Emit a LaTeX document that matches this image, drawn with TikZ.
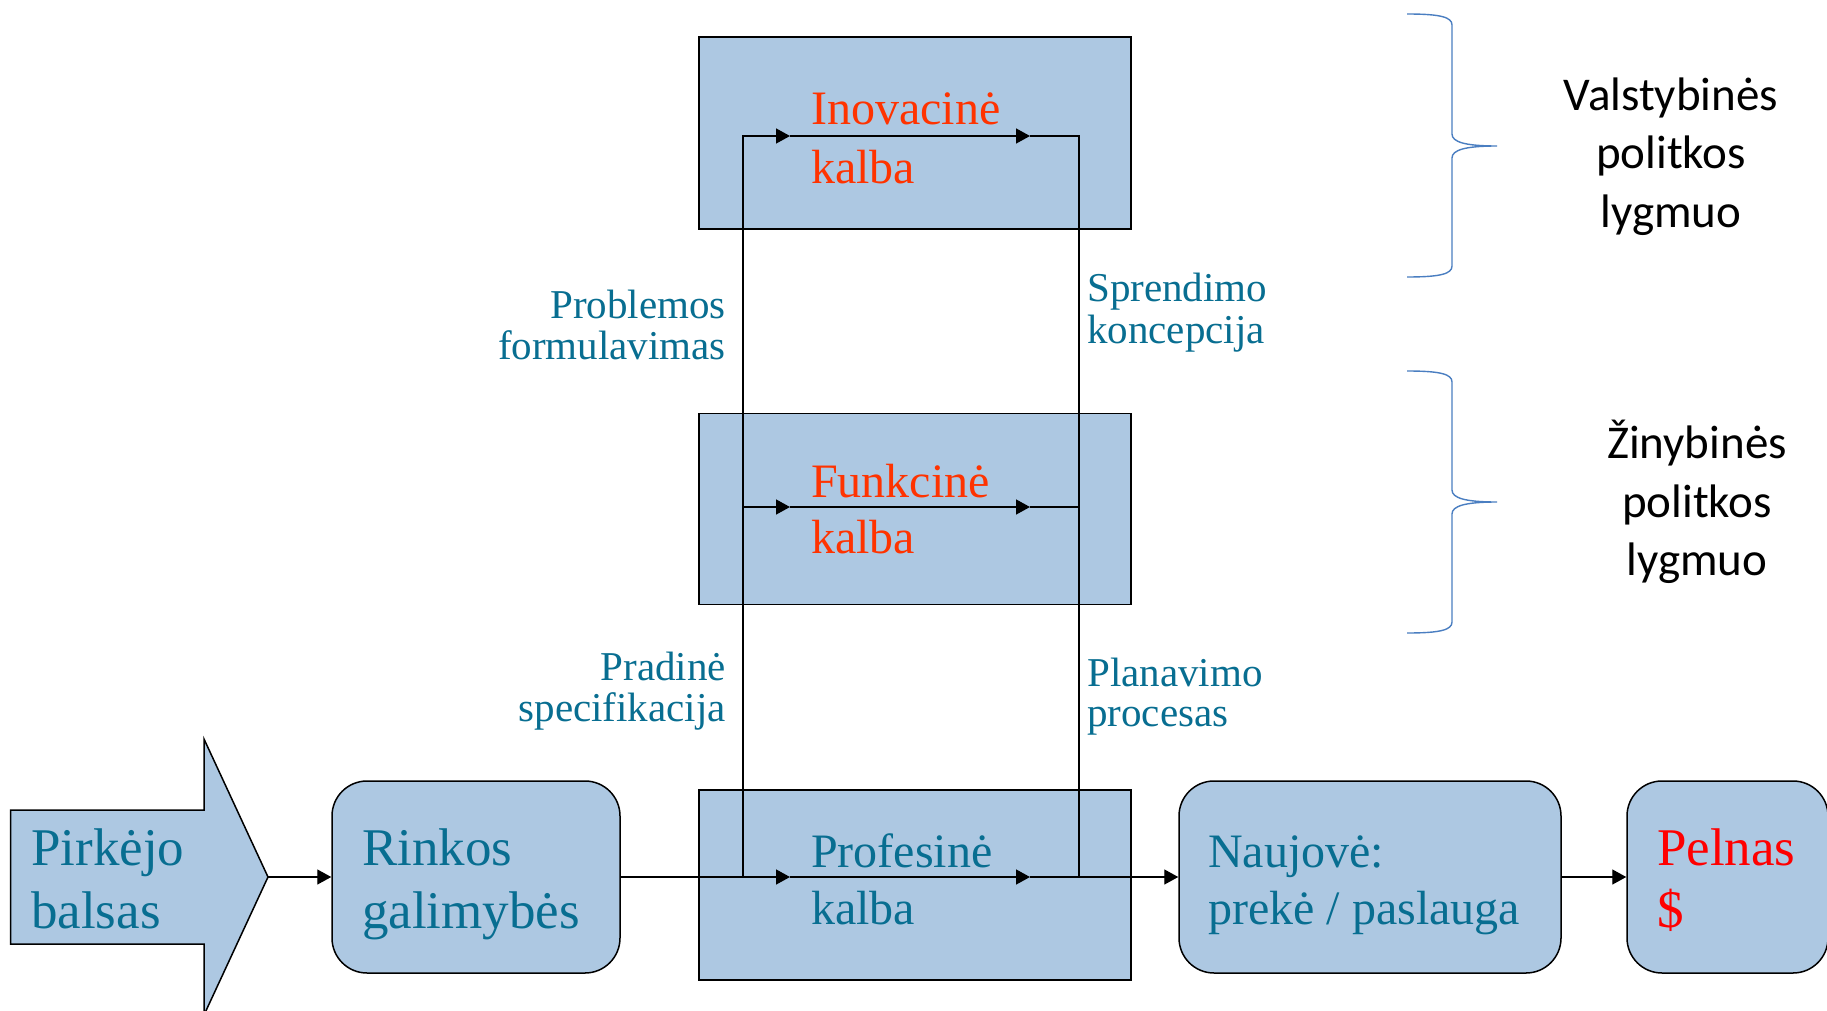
\documentclass[tikz,border=0pt]{standalone}
\usepackage{fontspec}
\setmainfont{Liberation Serif}
\newfontfamily\calib{Carlito}
\usetikzlibrary{arrows.meta}
\definecolor{boxfill}{RGB}{173,200,226}
\definecolor{tealtxt}{RGB}{8,110,145}
\definecolor{orangetxt}{RGB}{255,51,0}
\definecolor{bracecol}{RGB}{74,126,193}
\begin{document}
\begin{tikzpicture}[x=1pt,y=-1pt,
  box/.style={draw=black, line width=1.5pt, fill=boxfill, inner sep=0pt, rectangle},
  rbox/.style={box, rounded corners=35pt},
  tl/.style={inner sep=0pt, anchor=base west},
  tr/.style={inner sep=0pt, anchor=base east},
  tc/.style={inner sep=0pt, anchor=base},
  big/.style={font=\fontsize{53}{60}\selectfont},
  mid/.style={font=\fontsize{48}{56}\selectfont},
  small/.style={font=\fontsize{41}{48}\selectfont, text=tealtxt},
  side/.style={font=\calib\fontsize{47}{56}\selectfont, text=black},
  conn/.style={line width=1.4pt, draw=black},
  arr/.style={conn, -{Triangle[length=14pt,width=15pt]}},
  bracestyle/.style={draw=bracecol, line width=1.4pt}
]
\useasboundingbox (0,0) rectangle (1827,1011);
\fill[white] (0,0) rectangle (1827,1011);

% --- boxes ---
\node[box, minimum width=432pt, minimum height=192pt] (ino) at (915,133) {};
\node[box, minimum width=432pt, minimum height=191pt] (fun) at (915,509) {};
\node[box, minimum width=432pt, minimum height=190pt] (pro) at (915,885) {};
\node[rbox, minimum width=288pt, minimum height=192pt] (rink) at (476,877) {};
\node[rbox, minimum width=382pt, minimum height=192pt] (nauj) at (1370,877) {};
\node[rbox, minimum width=201pt, minimum height=192pt] (pel) at (1727.5,877) {};

% --- customer voice arrow ---
\coordinate (pirktip) at (268,877);
\fill[boxfill, draw=black, line width=1.5pt, line join=miter]
  (10.5,810) -- (204,810) -- (204,739) -- (pirktip) -- (204,1015) -- (204,944) -- (10.5,944) -- cycle;

% --- coordinates of the connector grid ---
\coordinate (iL) at (743,136);
\coordinate (iR) at (1079,136);
\coordinate (ia1) at (790,136);
\coordinate (ia2) at (1030,136);
\coordinate (fL) at (743,507);
\coordinate (fR) at (1079,507);
\coordinate (fa1) at (790,507);
\coordinate (fa2) at (1030,507);
\coordinate (pL) at (743,877);
\coordinate (pR) at (1079,877);
\coordinate (pa1) at (790,877);
\coordinate (pa2) at (1030,877);

% --- connectors ---
\draw[arr] (pirktip) -- (rink.west);
\draw[arr] (rink.east) -- (pa1);
\draw[arr] (pa1) -- (pa2);
\draw[arr] (pa2) -- (nauj.west);
\draw[arr] (nauj.east) -- (pel.west);
\draw[arr] (pL) -- (iL) -- (ia1);
\draw[arr] (ia1) -- (ia2);
\draw[conn] (ia2) -- (iR) -- (pR);
\draw[arr] (fL) -- (fa1);
\draw[arr] (fa1) -- (fa2);
\draw[conn] (fa2) -- (fR);

% --- box texts ---
\node[tl, big, text=tealtxt] (pirk1) at (31,865) {Pirkėjo};
\node[tl, big, text=tealtxt] (pirk2) at (31,928) {balsas};
\node[tl, big, text=tealtxt] (rink1) at (362,865) {Rinkos};
\node[tl, big, text=tealtxt] (rink2) at (362,928) {galimybės};
\node[tl, mid, text=orangetxt] (ino1) at (811,125) {Inovacinė};
\node[tl, mid, text=orangetxt] (ino2) at (811,183) {kalba};
\node[tl, mid, text=orangetxt] (fun1) at (811,497) {Funkcinė};
\node[tl, mid, text=orangetxt] (fun2) at (811,553) {kalba};
\node[tl, mid, text=tealtxt] (pro1) at (811,867) {Profesinė};
\node[tl, mid, text=tealtxt] (pro2) at (811,924) {kalba};
\node[tl, mid, text=tealtxt] (nauj1) at (1208,867) {Naujovė:};
\node[tl, mid, text=tealtxt] (nauj2) at (1208,924) {prekė / paslauga};
\node[tl, big, text=red] (pel1) at (1657,865) {Pelnas};
\node[tl, big, text=red] (pel2) at (1657,927) {\$};

% --- side labels ---
\node[tr, small] (prob1) at (726,318) {Problemos};
\node[tr, small] (prob2) at (726,359) {formulavimas};
\node[tl, small] (spr1) at (1087,301) {Sprendimo};
\node[tl, small] (spr2) at (1087,343) {koncepcija};
\node[tr, small] (prad1) at (726,680) {Pradinė};
\node[tr, small] (prad2) at (726,721) {specifikacija};
\node[tl, small] (plan1) at (1087,686) {Planavimo};
\node[tl, small] (plan2) at (1087,726) {procesas};

% --- braces ---
\draw[bracestyle] (1407,14) .. controls (1440,14) and (1452,17) .. (1452,25)
  -- (1452,134) .. controls (1452,142) and (1465,146) .. (1497,146)
  .. controls (1465,146) and (1452,150) .. (1452,158)
  -- (1452,266) .. controls (1452,274) and (1440,277) .. (1407,277);
\draw[bracestyle] (1407,371) .. controls (1440,371) and (1452,374) .. (1452,382)
  -- (1452,490) .. controls (1452,498) and (1465,502) .. (1497,502)
  .. controls (1465,502) and (1452,506) .. (1452,514)
  -- (1452,622) .. controls (1452,630) and (1440,633) .. (1407,633);

\node[tc, side] (val1) at (1671,111) {Valstybinės};
\node[tc, side] (val2) at (1671,169) {politkos};
\node[tc, side] (val3) at (1671,227) {lygmuo};
\node[tc, side] (zin1) at (1697,458) {Žinybinės};
\node[tc, side] (zin2) at (1697,517) {politkos};
\node[tc, side] (zin3) at (1697,575) {lygmuo};
\end{tikzpicture}
\end{document}
